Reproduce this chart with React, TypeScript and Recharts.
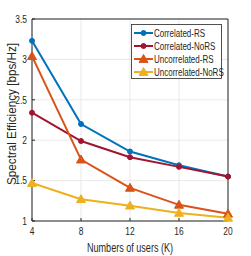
import {
  LineChart,
  Line,
  XAxis,
  YAxis,
  CartesianGrid,
  ReferenceLine,
} from "recharts";

const users = [4, 8, 12, 16, 20];
const correlatedRS = [3.23, 2.2, 1.86, 1.69, 1.55];
const correlatedNoRS = [2.34, 1.99, 1.79, 1.67, 1.55];
const uncorrelatedRS = [3.04, 1.76, 1.41, 1.2, 1.09];
const uncorrelatedNoRS = [1.47, 1.27, 1.19, 1.1, 1.04];

const xTicks = [4, 8, 12, 16, 20];
const yTicks = [1, 1.5, 2, 2.5, 3, 3.5];

const SERIES = [
  { key: "corrRS", name: "Correlated-RS", color: "#0072BD", marker: "dot" },
  { key: "corrNoRS", name: "Correlated-NoRS", color: "#A2142F", marker: "dot" },
  { key: "uncorrRS", name: "Uncorrelated-RS", color: "#D95319", marker: "tri" },
  { key: "uncorrNoRS", name: "Uncorrelated-NoRS", color: "#EDB120", marker: "tri" },
];

const data = users.map((k, i) => ({
  k,
  corrRS: correlatedRS[i],
  corrNoRS: correlatedNoRS[i],
  uncorrRS: uncorrelatedRS[i],
  uncorrNoRS: uncorrelatedNoRS[i],
}));

const FONT = "'Liberation Sans', Arial, sans-serif";
const INK = "#262626";
// MATLAB's Helvetica comes out narrow, squeeze Liberation Sans a bit
const SQUEEZE = 0.8;

const Marker = ({ cx, cy, color, type }: any) => {
  if (cx == null || cy == null) return null;
  if (type === "tri") {
    const s = 4.5;
    return (
      <polygon
        points={`${cx},${cy - s} ${cx - s},${cy + s * 0.75} ${cx + s},${cy + s * 0.75}`}
        fill={color}
        stroke={color}
      />
    );
  }
  return <circle cx={cx} cy={cy} r={2.5} fill={color} stroke={color} />;
};

const NarrowTick = (props: any) => {
  const { x, y, payload, textAnchor, verticalAnchor } = props;
  const dy = verticalAnchor === "start" ? "0.71em" : "0.355em";
  return (
    <g transform={`translate(${x},${y}) scale(${SQUEEZE},1)`}>
      <text
        x={0}
        y={0}
        dy={dy}
        textAnchor={textAnchor}
        fill={INK}
        fontSize={10.5}
        fontFamily={FONT}
      >
        {payload.value}
      </text>
    </g>
  );
};

const Overlay = () => (
  <svg
    width={251}
    height={256}
    style={{ position: "absolute", left: 0, top: 0, pointerEvents: "none" }}
  >
    <text
      transform="translate(12,114) rotate(-90)"
      textAnchor="middle"
      dy="0.355em"
      fontSize={12}
      fontFamily={FONT}
      fill={INK}
      textLength={142}
      lengthAdjust="spacingAndGlyphs"
    >
      Spectral Efficiency [bps/Hz]
    </text>
    <text
      x={130}
      y={248}
      textAnchor="middle"
      dy="0.355em"
      fontSize={12}
      fontFamily={FONT}
      fill={INK}
      textLength={86}
      lengthAdjust="spacingAndGlyphs"
    >
      Numbers of users (K)
    </text>
    <rect x={131.5} y={24.5} width={90} height={54} fill="#fff" stroke={INK} strokeWidth={0.8} />
    {SERIES.map((s, i) => {
      const cy = 33 + i * 13;
      return (
        <g key={s.key}>
          <line x1={134} y1={cy} x2={153} y2={cy} stroke={s.color} strokeWidth={2} />
          <Marker cx={143.5} cy={cy} color={s.color} type={s.marker} />
          <text
            x={154}
            y={cy}
            dy="0.355em"
            fontSize={10}
            fontFamily={FONT}
            fill={INK}
            transform={`translate(154,0) scale(${SQUEEZE},1) translate(-154,0)`}
          >
            {s.name}
          </text>
        </g>
      );
    })}
  </svg>
);

const App = () => {
  return (
    <div style={{ position: "absolute", left: 0, top: 0, width: 251, height: 256, background: "#fff" }}>
      <LineChart
        width={251}
        height={256}
        data={data}
        margin={{ top: 19, right: 23, left: 0, bottom: 0 }}
      >
        <CartesianGrid stroke="#e3e3e3" strokeWidth={0.8} />
        <XAxis
          dataKey="k"
          type="number"
          domain={[4, 20]}
          ticks={xTicks}
          height={35}
          tickSize={-3}
          tickLine={{ stroke: INK }}
          axisLine={{ stroke: INK }}
          tick={<NarrowTick />}
          tickMargin={10}
        />
        <YAxis
          type="number"
          domain={[1, 3.5]}
          ticks={yTicks}
          width={32}
          tickSize={-3}
          tickLine={{ stroke: INK }}
          axisLine={{ stroke: INK }}
          tick={<NarrowTick />}
          tickMargin={8}
        />
        <ReferenceLine x={20} stroke={INK} />
        <ReferenceLine y={3.5} stroke={INK} />
        {SERIES.map((s) => (
          <Line
            key={s.key}
            dataKey={s.key}
            name={s.name}
            stroke={s.color}
            strokeWidth={2}
            isAnimationActive={false}
            dot={(p: any) => (
              <Marker key={`${s.key}-${p.index}`} cx={p.cx} cy={p.cy} color={s.color} type={s.marker} />
            )}
            activeDot={false}
          />
        ))}
      </LineChart>
      <Overlay />
    </div>
  );
};

export default App;
